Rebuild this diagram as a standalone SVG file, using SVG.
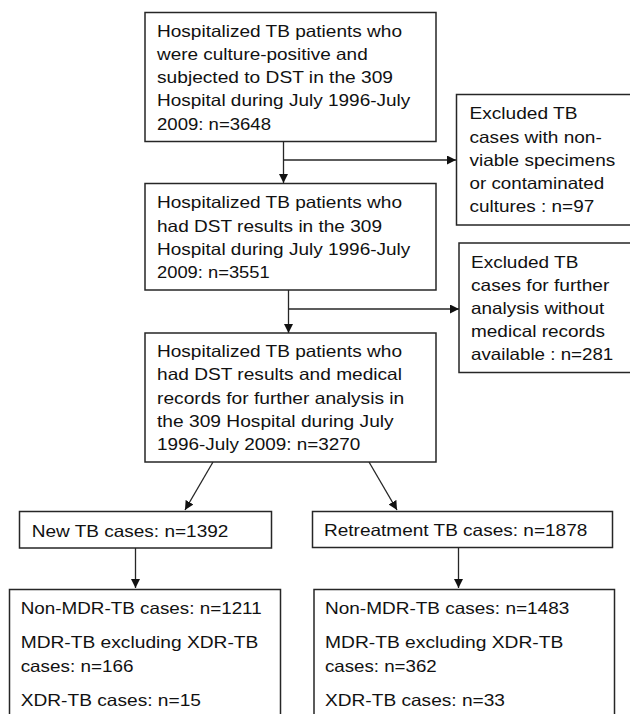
<svg xmlns="http://www.w3.org/2000/svg" width="630" height="714" viewBox="0 0 630 714">
<style>
.box{fill:#fff;stroke:#262626;stroke-width:1.5}
.t{font-family:"Liberation Sans",Arial,sans-serif;font-size:16.5px;fill:#111}
.c{fill:none;stroke:#262626;stroke-width:1.3}
</style>
<defs>
<marker id="ah" viewBox="0 0 10 10" refX="10" refY="5" markerWidth="9" markerHeight="9" markerUnits="userSpaceOnUse" orient="auto">
<path d="M0,0 L10,5 L0,10 Z" fill="#111"/>
</marker>
</defs>
<rect width="630" height="714" fill="#fff"/>
<g id="connectors">
<line class="c" x1="283.5" y1="142" x2="283.5" y2="183" marker-end="url(#ah)"/>
<line class="c" x1="283.5" y1="160" x2="456" y2="160" marker-end="url(#ah)"/>
<line class="c" x1="288.5" y1="290" x2="288.5" y2="333" marker-end="url(#ah)"/>
<line class="c" x1="288.5" y1="309" x2="459" y2="309" marker-end="url(#ah)"/>
<line class="c" x1="213" y1="462" x2="185" y2="510" marker-end="url(#ah)"/>
<line class="c" x1="369" y1="462" x2="397" y2="510" marker-end="url(#ah)"/>
<line class="c" x1="135.5" y1="548" x2="135.5" y2="588" marker-end="url(#ah)"/>
<line class="c" x1="458.5" y1="547" x2="458.5" y2="588" marker-end="url(#ah)"/>
</g>
<g id="n1">
<rect class="box" x="145" y="12.5" width="291" height="129"/>
<text class="t" x="157" y="36.5" textLength="245" lengthAdjust="spacingAndGlyphs">Hospitalized TB patients who</text>
<text class="t" x="157" y="59.8" textLength="210.7" lengthAdjust="spacingAndGlyphs">were culture-positive and</text>
<text class="t" x="157" y="83" textLength="236" lengthAdjust="spacingAndGlyphs">subjected to DST in the 309</text>
<text class="t" x="157" y="106.3" textLength="253.3" lengthAdjust="spacingAndGlyphs">Hospital during July 1996-July</text>
<text class="t" x="157" y="129.5" textLength="114" lengthAdjust="spacingAndGlyphs">2009: n=3648</text>
</g>
<g id="n2">
<rect class="box" x="145" y="183.5" width="291" height="106.5"/>
<text class="t" x="157" y="208.3" textLength="245" lengthAdjust="spacingAndGlyphs">Hospitalized TB patients who</text>
<text class="t" x="157" y="231.5" textLength="225" lengthAdjust="spacingAndGlyphs">had DST results in the 309</text>
<text class="t" x="157" y="254.5" textLength="253.3" lengthAdjust="spacingAndGlyphs">Hospital during July 1996-July</text>
<text class="t" x="157" y="277.7" textLength="112.7" lengthAdjust="spacingAndGlyphs">2009: n=3551</text>
</g>
<g id="n3">
<rect class="box" x="145" y="333" width="291" height="129"/>
<text class="t" x="157" y="357.3" textLength="245" lengthAdjust="spacingAndGlyphs">Hospitalized TB patients who</text>
<text class="t" x="157" y="380.3" textLength="245" lengthAdjust="spacingAndGlyphs">had DST results and medical</text>
<text class="t" x="157" y="403.5" textLength="247.3" lengthAdjust="spacingAndGlyphs">records for further analysis in</text>
<text class="t" x="157" y="426.7" textLength="236.7" lengthAdjust="spacingAndGlyphs">the 309 Hospital during July</text>
<text class="t" x="157" y="449.5" textLength="203.3" lengthAdjust="spacingAndGlyphs">1996-July 2009: n=3270</text>
</g>
<g id="n4">
<rect class="box" x="456.5" y="94.5" width="176" height="130.5"/>
<text class="t" x="469.5" y="119.3" textLength="108" lengthAdjust="spacingAndGlyphs">Excluded TB</text>
<text class="t" x="469.5" y="143" textLength="132.3" lengthAdjust="spacingAndGlyphs">cases with non-</text>
<text class="t" x="469.5" y="166" textLength="145.7" lengthAdjust="spacingAndGlyphs">viable specimens</text>
<text class="t" x="469.5" y="189.3" textLength="134.7" lengthAdjust="spacingAndGlyphs">or contaminated</text>
<text class="t" x="469.5" y="212.3" textLength="124.7" lengthAdjust="spacingAndGlyphs">cultures : n=97</text>
</g>
<g id="n5">
<rect class="box" x="459" y="243" width="174" height="129.5"/>
<text class="t" x="471" y="267.7" textLength="107.3" lengthAdjust="spacingAndGlyphs">Excluded TB</text>
<text class="t" x="471" y="290.7" textLength="138.3" lengthAdjust="spacingAndGlyphs">cases for further</text>
<text class="t" x="471" y="314" textLength="133.3" lengthAdjust="spacingAndGlyphs">analysis without</text>
<text class="t" x="471" y="337.3" textLength="134" lengthAdjust="spacingAndGlyphs">medical records</text>
<text class="t" x="471" y="360" textLength="142.3" lengthAdjust="spacingAndGlyphs">available : n=281</text>
</g>
<g id="n6">
<rect class="box" x="19.5" y="511.5" width="252" height="36.5"/>
<text class="t" x="31.7" y="536.5" textLength="196.7" lengthAdjust="spacingAndGlyphs">New TB cases: n=1392</text>
</g>
<g id="n7">
<rect class="box" x="312.5" y="511.5" width="300" height="36"/>
<text class="t" x="324" y="536" textLength="263.3" lengthAdjust="spacingAndGlyphs">Retreatment TB cases: n=1878</text>
</g>
<g id="n8">
<rect class="box" x="9.5" y="589.5" width="271" height="140"/>
<text class="t" x="20.7" y="614" textLength="241" lengthAdjust="spacingAndGlyphs">Non-MDR-TB cases: n=1211</text>
<text class="t" x="20.7" y="648" textLength="237.7" lengthAdjust="spacingAndGlyphs">MDR-TB excluding XDR-TB</text>
<text class="t" x="20.7" y="672" textLength="112.7" lengthAdjust="spacingAndGlyphs">cases: n=166</text>
<text class="t" x="20.7" y="706" textLength="180.3" lengthAdjust="spacingAndGlyphs">XDR-TB cases: n=15</text>
</g>
<g id="n9">
<rect class="box" x="314" y="589.5" width="300.5" height="140"/>
<text class="t" x="325" y="614" textLength="244.3" lengthAdjust="spacingAndGlyphs">Non-MDR-TB cases: n=1483</text>
<text class="t" x="325" y="648" textLength="238.3" lengthAdjust="spacingAndGlyphs">MDR-TB excluding XDR-TB</text>
<text class="t" x="325" y="672" textLength="111.7" lengthAdjust="spacingAndGlyphs">cases: n=362</text>
<text class="t" x="325" y="706" textLength="180" lengthAdjust="spacingAndGlyphs">XDR-TB cases: n=33</text>
</g>
</svg>
